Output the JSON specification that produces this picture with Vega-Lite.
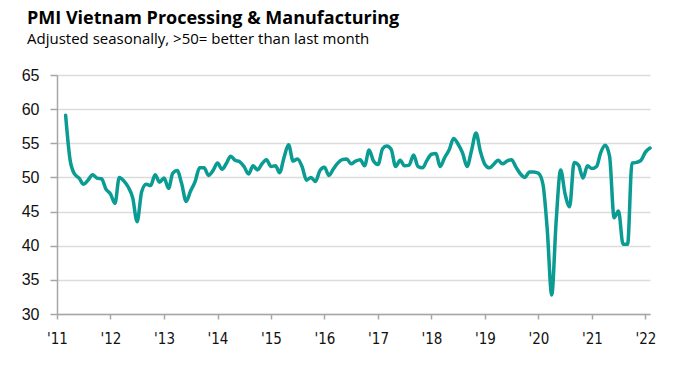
{
  "$schema": "https://vega.github.io/schema/vega-lite/v6.json",
  "width": 593,
  "height": 239,
  "autosize": {"type": "none"},
  "padding": {"left": 57, "top": 75, "right": 30, "bottom": 64},
  "background": "white",
  "title": {
    "text": "PMI Vietnam Processing & Manufacturing",
    "subtitle": "Adjusted seasonally, >50= better than last month",
    "anchor": "start",
    "frame": "group",
    "dx": -30,
    "offset": 20,
    "font": "Open Sans",
    "fontSize": 18,
    "fontWeight": "bold",
    "color": "#000000",
    "subtitleFont": "Open Sans",
    "subtitleFontSize": 15,
    "subtitleColor": "#000000",
    "subtitlePadding": 4
  },
  "config": {
    "view": {"stroke": null}
  },
  "data": {
    "values": [
      {"date": "2011-03-01", "pmi": 59.1}, {"date": "2011-04-01", "pmi": 52.5}, {"date": "2011-05-01", "pmi": 50.5}, {"date": "2011-06-01", "pmi": 49.9}, {"date": "2011-07-01", "pmi": 49.0}, {"date": "2011-08-01", "pmi": 49.6}, {"date": "2011-09-01", "pmi": 50.4}, {"date": "2011-10-01", "pmi": 49.9}, {"date": "2011-11-01", "pmi": 49.8}, {"date": "2011-12-01", "pmi": 48.3},
      {"date": "2012-01-01", "pmi": 47.6}, {"date": "2012-02-01", "pmi": 46.2}, {"date": "2012-03-01", "pmi": 50.0}, {"date": "2012-04-01", "pmi": 49.5}, {"date": "2012-05-01", "pmi": 48.6}, {"date": "2012-06-01", "pmi": 47.0}, {"date": "2012-07-01", "pmi": 43.5}, {"date": "2012-08-01", "pmi": 47.9}, {"date": "2012-09-01", "pmi": 49.0}, {"date": "2012-10-01", "pmi": 48.8}, {"date": "2012-11-01", "pmi": 50.4}, {"date": "2012-12-01", "pmi": 49.3},
      {"date": "2013-01-01", "pmi": 49.9}, {"date": "2013-02-01", "pmi": 48.4}, {"date": "2013-03-01", "pmi": 50.6}, {"date": "2013-04-01", "pmi": 51.0}, {"date": "2013-05-01", "pmi": 49.1}, {"date": "2013-06-01", "pmi": 46.5}, {"date": "2013-07-01", "pmi": 48.0}, {"date": "2013-08-01", "pmi": 49.4}, {"date": "2013-09-01", "pmi": 51.4}, {"date": "2013-10-01", "pmi": 51.4}, {"date": "2013-11-01", "pmi": 50.3}, {"date": "2013-12-01", "pmi": 51.0},
      {"date": "2014-01-01", "pmi": 52.1}, {"date": "2014-02-01", "pmi": 51.2}, {"date": "2014-03-01", "pmi": 52.0}, {"date": "2014-04-01", "pmi": 53.1}, {"date": "2014-05-01", "pmi": 52.5}, {"date": "2014-06-01", "pmi": 52.3}, {"date": "2014-07-01", "pmi": 51.6}, {"date": "2014-08-01", "pmi": 50.5}, {"date": "2014-09-01", "pmi": 51.7}, {"date": "2014-10-01", "pmi": 51.1}, {"date": "2014-11-01", "pmi": 52.0}, {"date": "2014-12-01", "pmi": 52.6},
      {"date": "2015-01-01", "pmi": 51.6}, {"date": "2015-02-01", "pmi": 51.7}, {"date": "2015-03-01", "pmi": 50.7}, {"date": "2015-04-01", "pmi": 53.0}, {"date": "2015-05-01", "pmi": 54.8}, {"date": "2015-06-01", "pmi": 52.4}, {"date": "2015-07-01", "pmi": 52.7}, {"date": "2015-08-01", "pmi": 51.6}, {"date": "2015-09-01", "pmi": 49.6}, {"date": "2015-10-01", "pmi": 50.0}, {"date": "2015-11-01", "pmi": 49.4}, {"date": "2015-12-01", "pmi": 51.0},
      {"date": "2016-01-01", "pmi": 51.5}, {"date": "2016-02-01", "pmi": 50.3}, {"date": "2016-03-01", "pmi": 51.2}, {"date": "2016-04-01", "pmi": 52.1}, {"date": "2016-05-01", "pmi": 52.6}, {"date": "2016-06-01", "pmi": 52.7}, {"date": "2016-07-01", "pmi": 52.0}, {"date": "2016-08-01", "pmi": 52.4}, {"date": "2016-09-01", "pmi": 52.6}, {"date": "2016-10-01", "pmi": 51.7}, {"date": "2016-11-01", "pmi": 54.0}, {"date": "2016-12-01", "pmi": 52.4},
      {"date": "2017-01-01", "pmi": 51.9}, {"date": "2017-02-01", "pmi": 54.2}, {"date": "2017-03-01", "pmi": 54.6}, {"date": "2017-04-01", "pmi": 54.1}, {"date": "2017-05-01", "pmi": 51.6}, {"date": "2017-06-01", "pmi": 52.5}, {"date": "2017-07-01", "pmi": 51.7}, {"date": "2017-08-01", "pmi": 51.8}, {"date": "2017-09-01", "pmi": 53.3}, {"date": "2017-10-01", "pmi": 51.6}, {"date": "2017-11-01", "pmi": 51.4}, {"date": "2017-12-01", "pmi": 52.5},
      {"date": "2018-01-01", "pmi": 53.4}, {"date": "2018-02-01", "pmi": 53.5}, {"date": "2018-03-01", "pmi": 51.6}, {"date": "2018-04-01", "pmi": 52.9}, {"date": "2018-05-01", "pmi": 54.0}, {"date": "2018-06-01", "pmi": 55.7}, {"date": "2018-07-01", "pmi": 54.9}, {"date": "2018-08-01", "pmi": 53.6}, {"date": "2018-09-01", "pmi": 51.6}, {"date": "2018-10-01", "pmi": 53.9}, {"date": "2018-11-01", "pmi": 56.5}, {"date": "2018-12-01", "pmi": 53.8},
      {"date": "2019-01-01", "pmi": 51.9}, {"date": "2019-02-01", "pmi": 51.4}, {"date": "2019-03-01", "pmi": 51.9}, {"date": "2019-04-01", "pmi": 52.5}, {"date": "2019-05-01", "pmi": 52.0}, {"date": "2019-06-01", "pmi": 52.4}, {"date": "2019-07-01", "pmi": 52.6}, {"date": "2019-08-01", "pmi": 51.5}, {"date": "2019-09-01", "pmi": 50.5}, {"date": "2019-10-01", "pmi": 50.0}, {"date": "2019-11-01", "pmi": 50.8}, {"date": "2019-12-01", "pmi": 50.8},
      {"date": "2020-01-01", "pmi": 50.6}, {"date": "2020-02-01", "pmi": 49.0}, {"date": "2020-03-01", "pmi": 42.5}, {"date": "2020-04-01", "pmi": 32.8}, {"date": "2020-05-01", "pmi": 43.5}, {"date": "2020-06-01", "pmi": 51.1}, {"date": "2020-07-01", "pmi": 47.6}, {"date": "2020-08-01", "pmi": 45.7}, {"date": "2020-09-01", "pmi": 52.2}, {"date": "2020-10-01", "pmi": 51.8}, {"date": "2020-11-01", "pmi": 49.9}, {"date": "2020-12-01", "pmi": 51.7},
      {"date": "2021-01-01", "pmi": 51.3}, {"date": "2021-02-01", "pmi": 51.6}, {"date": "2021-03-01", "pmi": 53.6}, {"date": "2021-04-01", "pmi": 54.7}, {"date": "2021-05-01", "pmi": 53.1}, {"date": "2021-06-01", "pmi": 44.1}, {"date": "2021-07-01", "pmi": 45.1}, {"date": "2021-08-01", "pmi": 40.2}, {"date": "2021-09-01", "pmi": 40.2}, {"date": "2021-10-01", "pmi": 52.1}, {"date": "2021-11-01", "pmi": 52.2}, {"date": "2021-12-01", "pmi": 52.5},
      {"date": "2022-01-01", "pmi": 53.7}, {"date": "2022-02-01", "pmi": 54.3}
    ]
  },
  "mark": {"type": "line", "color": "#0a9b93", "strokeWidth": 3.5, "interpolate": "monotone", "strokeCap": "round", "strokeJoin": "round"},
  "encoding": {
    "x": {
      "field": "date",
      "type": "temporal",
      "scale": {"type": "utc", "domain": [{"year": 2011, "month": 1, "date": 1, "utc": true}, {"year": 2022, "month": 2, "date": 1, "utc": true}]},
      "axis": {
        "title": null,
        "format": "'%y",
        "tickCount": {"interval": "year", "step": 1},
        "grid": false,
        "domainColor": "#a6a6a6",
        "domainWidth": 1.5,
        "tickColor": "#a6a6a6",
        "tickWidth": 1.5,
        "tickSize": 5,
        "labelFont": "DejaVu Sans Condensed, Liberation Sans Narrow, sans-serif",
        "labelFontSize": 15,
        "labelColor": "#111111",
        "labelPadding": 12,
        "labelFlush": false,
        "labelOverlap": false
      }
    },
    "y": {
      "field": "pmi",
      "type": "quantitative",
      "scale": {"domain": [30, 65], "nice": false, "zero": false},
      "axis": {
        "title": null,
        "values": [30, 35, 40, 45, 50, 55, 60, 65],
        "grid": true,
        "gridColor": "#dcdcdc",
        "gridWidth": 1.5,
        "domainColor": "#a6a6a6",
        "domainWidth": 1.5,
        "tickColor": "#a6a6a6",
        "tickWidth": 1.5,
        "tickSize": 7,
        "labelFont": "Liberation Sans, Arial, sans-serif",
        "labelFontSize": 16,
        "labelColor": "#111111",
        "labelPadding": 11
      }
    }
  }
}
